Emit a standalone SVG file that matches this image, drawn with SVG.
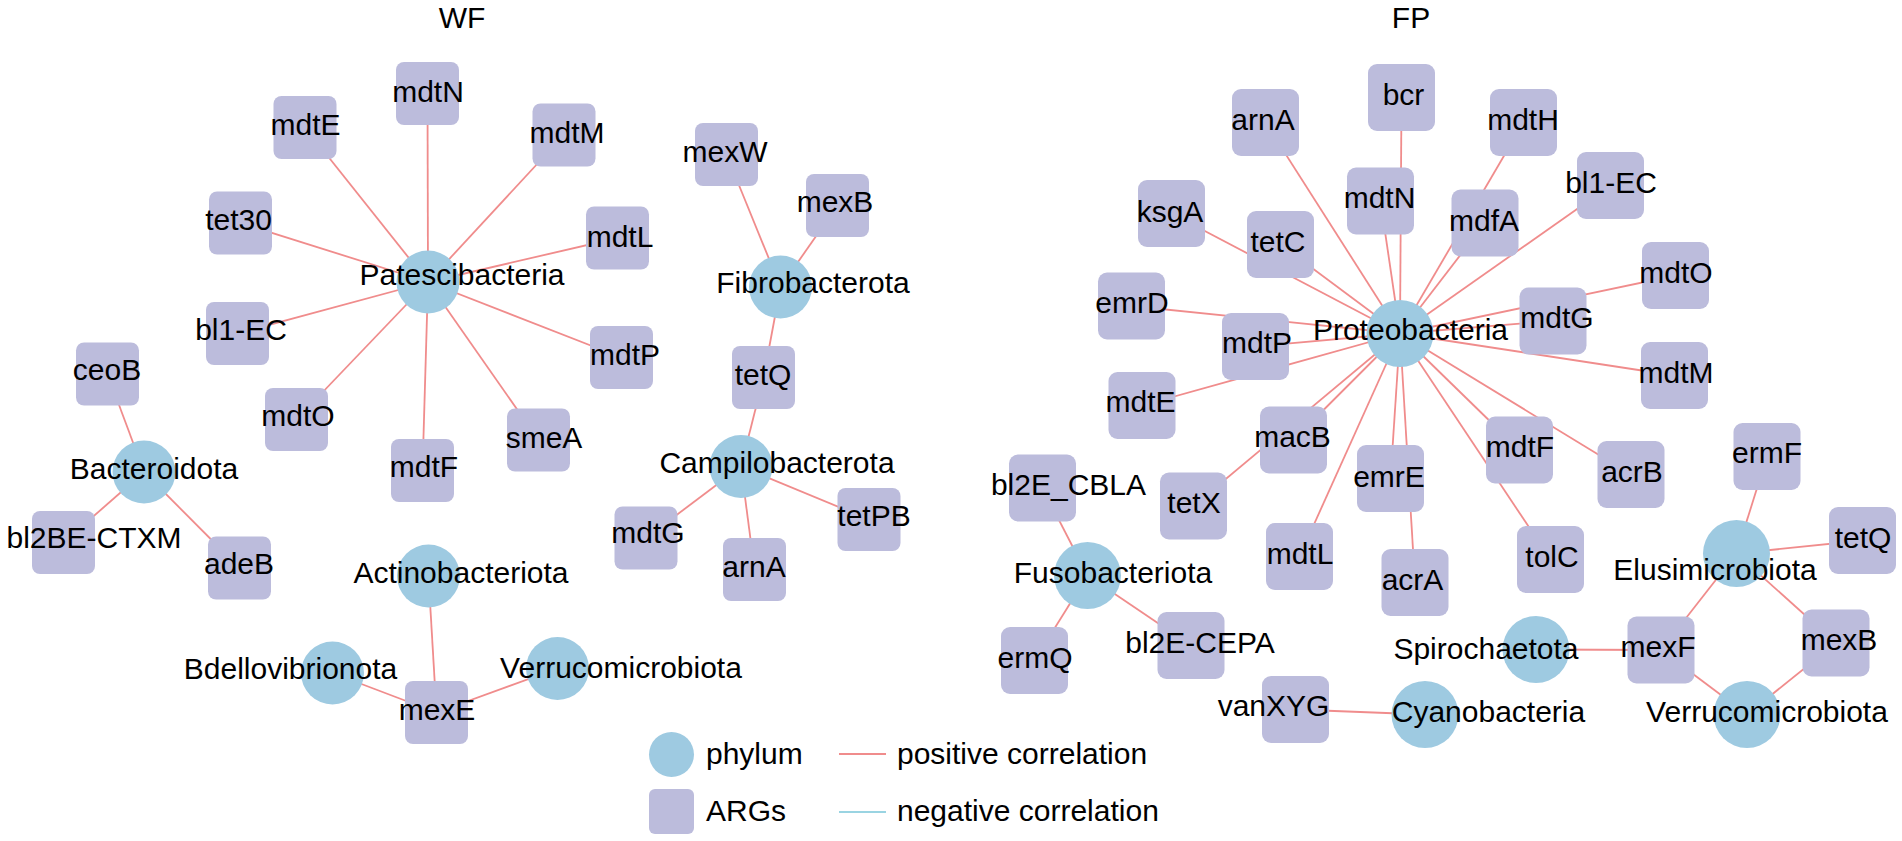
<svg xmlns="http://www.w3.org/2000/svg" width="1902" height="841" viewBox="0 0 1902 841">
<style>
text{font-family:"Liberation Sans",Arial,sans-serif;font-size:30px;fill:#000}
.t{text-anchor:middle}
.ph{fill:#9ecae1}
.arg{fill:#bcbcdc}
.e line{stroke:#f08c8c;stroke-width:1.8}
</style>
<rect width="1902" height="841" fill="#fff"/>
<text class="t" x="462" y="28">WF</text>
<text class="t" x="1411" y="28">FP</text>
<g id="connectors" class="e">
<!-- WF Patescibacteria -->
<line x1="428" y1="282" x2="427.5" y2="93.5"/>
<line x1="428" y1="282" x2="305" y2="127.5"/>
<line x1="428" y1="282" x2="240.5" y2="223"/>
<line x1="428" y1="282" x2="237.5" y2="333.5"/>
<line x1="428" y1="282" x2="296.5" y2="419.5"/>
<line x1="428" y1="282" x2="422.5" y2="470.5"/>
<line x1="428" y1="282" x2="538.5" y2="440"/>
<line x1="428" y1="282" x2="621.5" y2="357.5"/>
<line x1="428" y1="282" x2="617.5" y2="238"/>
<line x1="428" y1="282" x2="564" y2="135"/>
<!-- Bacteroidota -->
<line x1="144" y1="472" x2="107.5" y2="374"/>
<line x1="144" y1="472" x2="63.5" y2="542.5"/>
<line x1="144" y1="472" x2="239.5" y2="568"/>
<!-- Fibrobacterota -->
<line x1="780.5" y1="287" x2="726.5" y2="154.5"/>
<line x1="780.5" y1="287" x2="837.5" y2="205.5"/>
<line x1="780.5" y1="287" x2="763.5" y2="377.5"/>
<!-- Campilobacterota -->
<line x1="741" y1="466.5" x2="763.5" y2="377.5"/>
<line x1="741" y1="466.5" x2="646" y2="538"/>
<line x1="741" y1="466.5" x2="754.5" y2="569.5"/>
<line x1="741" y1="466.5" x2="869" y2="519.5"/>
<!-- mexE -->
<line x1="436.5" y1="712.5" x2="428.5" y2="576"/>
<line x1="436.5" y1="712.5" x2="332.5" y2="673"/>
<line x1="436.5" y1="712.5" x2="557.5" y2="668.5"/>
<!-- FP Proteobacteria -->
<line x1="1400" y1="333.5" x2="1265.5" y2="122.5"/>
<line x1="1400" y1="333.5" x2="1401.5" y2="97.5"/>
<line x1="1400" y1="333.5" x2="1380.5" y2="201"/>
<line x1="1400" y1="333.5" x2="1171.5" y2="213.5"/>
<line x1="1400" y1="333.5" x2="1280.5" y2="244.5"/>
<line x1="1400" y1="333.5" x2="1131.5" y2="306"/>
<line x1="1400" y1="333.5" x2="1255.5" y2="346.5"/>
<line x1="1400" y1="333.5" x2="1142" y2="405.5"/>
<line x1="1400" y1="333.5" x2="1293.5" y2="440"/>
<line x1="1400" y1="333.5" x2="1193.5" y2="506"/>
<line x1="1400" y1="333.5" x2="1299.5" y2="556.5"/>
<line x1="1400" y1="333.5" x2="1390.5" y2="478.5"/>
<line x1="1400" y1="333.5" x2="1415" y2="582.5"/>
<line x1="1400" y1="333.5" x2="1519.5" y2="450"/>
<line x1="1400" y1="333.5" x2="1550.5" y2="559.5"/>
<line x1="1400" y1="333.5" x2="1631" y2="474.5"/>
<line x1="1400" y1="333.5" x2="1674.5" y2="375.5"/>
<line x1="1400" y1="333.5" x2="1553" y2="321"/>
<line x1="1400" y1="333.5" x2="1675.5" y2="275.5"/>
<line x1="1400" y1="333.5" x2="1610.5" y2="185.5"/>
<line x1="1400" y1="333.5" x2="1485" y2="223"/>
<line x1="1400" y1="333.5" x2="1523.5" y2="122.5"/>
<!-- Fusobacteriota -->
<line x1="1087.5" y1="575.5" x2="1042.5" y2="488"/>
<line x1="1087.5" y1="575.5" x2="1034.5" y2="660.5"/>
<line x1="1087.5" y1="575.5" x2="1191" y2="645.5"/>
<!-- Cyanobacteria / Spirochaetota -->
<line x1="1425" y1="714.5" x2="1295.5" y2="709.5"/>
<line x1="1536" y1="649.5" x2="1661" y2="650"/>
<!-- Elusimicrobiota -->
<line x1="1736.5" y1="553.5" x2="1767" y2="456.5"/>
<line x1="1736.5" y1="553.5" x2="1862.5" y2="540.5"/>
<line x1="1736.5" y1="553.5" x2="1661" y2="650"/>
<line x1="1736.5" y1="553.5" x2="1836" y2="643"/>
<!-- Verrucomicrobiota FP -->
<line x1="1747" y1="714.5" x2="1661" y2="650"/>
<line x1="1747" y1="714.5" x2="1836" y2="643"/>
</g>
<!-- WF nodes -->
<g id="wf-Patescibacteria"><circle class="ph" cx="428" cy="282" r="31.5"/><text class="t" x="462" y="285">Patescibacteria</text></g>
<g id="wf-mdtN"><rect class="arg" x="396" y="62" width="63" height="63" rx="8"/><text class="t" x="428" y="102">mdtN</text></g>
<g id="wf-mdtE"><rect class="arg" x="273.5" y="96" width="63" height="63" rx="8"/><text class="t" x="305.5" y="135">mdtE</text></g>
<g id="wf-tet30"><rect class="arg" x="209" y="191.5" width="63" height="63" rx="8"/><text class="t" x="238.5" y="230">tet30</text></g>
<g id="wf-bl1-EC"><rect class="arg" x="206" y="302" width="63" height="63" rx="8"/><text class="t" x="241" y="340">bl1-EC</text></g>
<g id="wf-ceoB"><rect class="arg" x="76" y="342.5" width="63" height="63" rx="8"/><text class="t" x="107" y="380">ceoB</text></g>
<g id="wf-mdtO"><rect class="arg" x="265" y="388" width="63" height="63" rx="8"/><text class="t" x="298" y="426">mdtO</text></g>
<g id="wf-mdtF"><rect class="arg" x="391" y="439" width="63" height="63" rx="8"/><text class="t" x="424" y="477">mdtF</text></g>
<g id="wf-mdtM"><rect class="arg" x="532.5" y="103.5" width="63" height="63" rx="8"/><text class="t" x="567" y="143">mdtM</text></g>
<g id="wf-mdtL"><rect class="arg" x="586" y="206.5" width="63" height="63" rx="8"/><text class="t" x="620" y="247">mdtL</text></g>
<g id="wf-mdtP"><rect class="arg" x="590" y="326" width="63" height="63" rx="8"/><text class="t" x="625" y="365">mdtP</text></g>
<g id="wf-smeA"><rect class="arg" x="507" y="408.5" width="63" height="63" rx="8"/><text class="t" x="544" y="448">smeA</text></g>
<g id="wf-mexW"><rect class="arg" x="695" y="123" width="63" height="63" rx="8"/><text class="t" x="725" y="162">mexW</text></g>
<g id="wf-mexB"><rect class="arg" x="806" y="174" width="63" height="63" rx="8"/><text class="t" x="835" y="212">mexB</text></g>
<g id="wf-Fibrobacterota"><circle class="ph" cx="780.5" cy="287" r="31.5"/><text class="t" x="813" y="293">Fibrobacterota</text></g>
<g id="wf-tetQ"><rect class="arg" x="732" y="346" width="63" height="63" rx="8"/><text class="t" x="763" y="385">tetQ</text></g>
<g id="wf-Campilobacterota"><circle class="ph" cx="741" cy="466.5" r="31.5"/><text class="t" x="777" y="473">Campilobacterota</text></g>
<g id="wf-mdtG"><rect class="arg" x="614.5" y="506.5" width="63" height="63" rx="8"/><text class="t" x="648" y="543">mdtG</text></g>
<g id="wf-arnA"><rect class="arg" x="723" y="538" width="63" height="63" rx="8"/><text class="t" x="754" y="577">arnA</text></g>
<g id="wf-tetPB"><rect class="arg" x="837.5" y="488" width="63" height="63" rx="8"/><text class="t" x="874" y="526">tetPB</text></g>
<g id="wf-Bacteroidota"><circle class="ph" cx="144" cy="472" r="31.5"/><text class="t" x="154" y="479">Bacteroidota</text></g>
<g id="wf-bl2BE-CTXM"><rect class="arg" x="32" y="511" width="63" height="63" rx="8"/><text class="t" x="94" y="548">bl2BE-CTXM</text></g>
<g id="wf-adeB"><rect class="arg" x="208" y="536.5" width="63" height="63" rx="8"/><text class="t" x="239" y="574">adeB</text></g>
<g id="wf-Actinobacteriota"><circle class="ph" cx="428.5" cy="576" r="31.5"/><text class="t" x="461" y="583">Actinobacteriota</text></g>
<g id="wf-Bdellovibrionota"><circle class="ph" cx="332.5" cy="673" r="31.5"/><text class="t" x="290.5" y="679">Bdellovibrionota</text></g>
<g id="wf-Verrucomicrobiota"><circle class="ph" cx="557.5" cy="668.5" r="31.5"/><text class="t" x="621" y="678">Verrucomicrobiota</text></g>
<g id="wf-mexE"><rect class="arg" x="405" y="681" width="63" height="63" rx="8"/><text class="t" x="437" y="720">mexE</text></g>
<!-- FP nodes -->
<g id="fp-arnA"><rect class="arg" x="1232" y="89" width="67" height="67" rx="9"/><text class="t" x="1263" y="130">arnA</text></g>
<g id="fp-bcr"><rect class="arg" x="1368" y="64" width="67" height="67" rx="9"/><text class="t" x="1403.5" y="105">bcr</text></g>
<g id="fp-mdtN"><rect class="arg" x="1347" y="167.5" width="67" height="67" rx="9"/><text class="t" x="1379.5" y="208">mdtN</text></g>
<g id="fp-ksgA"><rect class="arg" x="1138" y="180" width="67" height="67" rx="9"/><text class="t" x="1170" y="222">ksgA</text></g>
<g id="fp-tetC"><rect class="arg" x="1247" y="211" width="67" height="67" rx="9"/><text class="t" x="1278" y="252">tetC</text></g>
<g id="fp-emrD"><rect class="arg" x="1098" y="272.5" width="67" height="67" rx="9"/><text class="t" x="1132" y="313">emrD</text></g>
<g id="fp-mdtP"><rect class="arg" x="1222" y="313" width="67" height="67" rx="9"/><text class="t" x="1257" y="353">mdtP</text></g>
<g id="fp-mdtE"><rect class="arg" x="1108.5" y="372" width="67" height="67" rx="9"/><text class="t" x="1140.5" y="412">mdtE</text></g>
<g id="fp-macB"><rect class="arg" x="1260" y="406.5" width="67" height="67" rx="9"/><text class="t" x="1292.5" y="447">macB</text></g>
<g id="fp-Proteobacteria"><circle class="ph" cx="1400" cy="333.5" r="33.5"/><text class="t" x="1410.5" y="340">Proteobacteria</text></g>
<g id="fp-mdtH"><rect class="arg" x="1490" y="89" width="67" height="67" rx="9"/><text class="t" x="1523" y="130">mdtH</text></g>
<g id="fp-bl1-EC"><rect class="arg" x="1577" y="152" width="67" height="67" rx="9"/><text class="t" x="1611" y="193">bl1-EC</text></g>
<g id="fp-mdfA"><rect class="arg" x="1451.5" y="189.5" width="67" height="67" rx="9"/><text class="t" x="1484" y="231">mdfA</text></g>
<g id="fp-mdtO"><rect class="arg" x="1642" y="242" width="67" height="67" rx="9"/><text class="t" x="1676" y="283">mdtO</text></g>
<g id="fp-mdtG"><rect class="arg" x="1519.5" y="287.5" width="67" height="67" rx="9"/><text class="t" x="1557" y="328">mdtG</text></g>
<g id="fp-mdtM"><rect class="arg" x="1641" y="342" width="67" height="67" rx="9"/><text class="t" x="1676" y="383">mdtM</text></g>
<g id="fp-mdtF"><rect class="arg" x="1486" y="416.5" width="67" height="67" rx="9"/><text class="t" x="1520" y="457">mdtF</text></g>
<g id="fp-acrB"><rect class="arg" x="1597.5" y="441" width="67" height="67" rx="9"/><text class="t" x="1632" y="482">acrB</text></g>
<g id="fp-ermF"><rect class="arg" x="1733.5" y="423" width="67" height="67" rx="9"/><text class="t" x="1767" y="463">ermF</text></g>
<g id="fp-tetQ"><rect class="arg" x="1829" y="507" width="67" height="67" rx="9"/><text class="t" x="1863" y="548">tetQ</text></g>
<g id="fp-Elusimicrobiota"><circle class="ph" cx="1736.5" cy="553.5" r="33.5"/><text class="t" x="1715" y="580">Elusimicrobiota</text></g>
<g id="fp-mexB"><rect class="arg" x="1802.5" y="609.5" width="67" height="67" rx="9"/><text class="t" x="1839" y="650">mexB</text></g>
<g id="fp-mexF"><rect class="arg" x="1627.5" y="616.5" width="67" height="67" rx="9"/><text class="t" x="1658" y="657">mexF</text></g>
<g id="fp-Spirochaetota"><circle class="ph" cx="1536" cy="649.5" r="33.5"/><text class="t" x="1486" y="659">Spirochaetota</text></g>
<g id="fp-Verrucomicrobiota"><circle class="ph" cx="1747" cy="714.5" r="33.5"/><text class="t" x="1767" y="722">Verrucomicrobiota</text></g>
<g id="fp-Cyanobacteria"><circle class="ph" cx="1425" cy="714.5" r="33.5"/><text class="t" x="1488.5" y="722">Cyanobacteria</text></g>
<g id="fp-tolC"><rect class="arg" x="1517" y="526" width="67" height="67" rx="9"/><text class="t" x="1552" y="567">tolC</text></g>
<g id="fp-emrE"><rect class="arg" x="1357" y="445" width="67" height="67" rx="9"/><text class="t" x="1389" y="487">emrE</text></g>
<g id="fp-acrA"><rect class="arg" x="1381.5" y="549" width="67" height="67" rx="9"/><text class="t" x="1412.5" y="590">acrA</text></g>
<g id="fp-bl2E_CBLA"><rect class="arg" x="1009" y="454.5" width="67" height="67" rx="9"/><text class="t" x="1068.5" y="495">bl2E_CBLA</text></g>
<g id="fp-tetX"><rect class="arg" x="1160" y="472.5" width="67" height="67" rx="9"/><text class="t" x="1194" y="513">tetX</text></g>
<g id="fp-mdtL"><rect class="arg" x="1266" y="523" width="67" height="67" rx="9"/><text class="t" x="1300" y="564">mdtL</text></g>
<g id="fp-Fusobacteriota"><circle class="ph" cx="1087.5" cy="575.5" r="33.5"/><text class="t" x="1113" y="583">Fusobacteriota</text></g>
<g id="fp-ermQ"><rect class="arg" x="1001" y="627" width="67" height="67" rx="9"/><text class="t" x="1035" y="668">ermQ</text></g>
<g id="fp-bl2E-CEPA"><rect class="arg" x="1157.5" y="612" width="67" height="67" rx="9"/><text class="t" x="1200" y="653">bl2E-CEPA</text></g>
<g id="fp-vanXYG"><rect class="arg" x="1262" y="676" width="67" height="67" rx="9"/><text class="t" x="1273.5" y="716">vanXYG</text></g>
<!-- legend -->
<g id="legend">
<circle class="ph" cx="671.5" cy="754.5" r="22.5"/>
<text x="706" y="764">phylum</text>
<rect class="arg" x="649" y="789" width="45" height="45" rx="6"/>
<text x="706" y="821">ARGs</text>
<line x1="839" y1="754" x2="886" y2="754" stroke="#f08c8c" stroke-width="1.8"/>
<text x="897" y="764">positive correlation</text>
<line x1="839" y1="812" x2="886" y2="812" stroke="#9ad4e2" stroke-width="1.8"/>
<text x="897" y="821">negative correlation</text>
</g>
</svg>
